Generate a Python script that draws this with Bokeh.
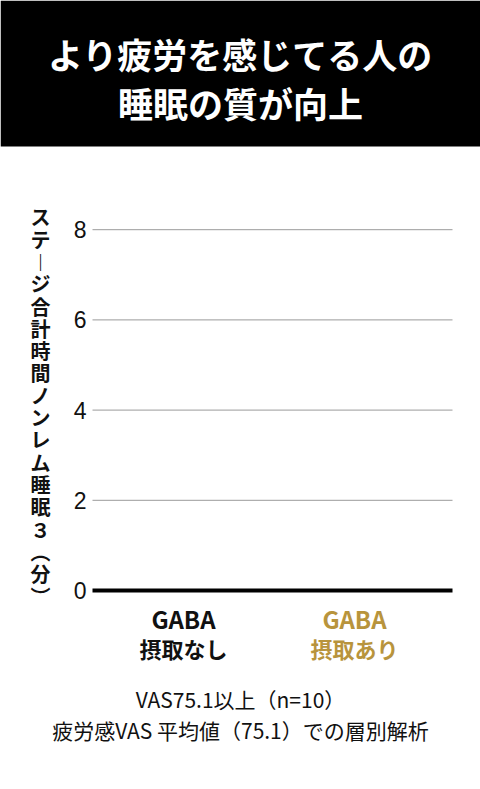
from bokeh.plotting import figure
from bokeh.models import Range1d
from bokeh.core.properties import value
from bokeh.embed import file_html
from bokeh.resources import INLINE

# ---- data ----
title_lines = ["より疲労を感じてる人の", "睡眠の質が向上"]
cat_line1 = ["GABA", "GABA"]
cat_line2 = ["摂取なし", "摂取あり"]
cat_colors = ["#111111", "#B8943C"]
values = [0, 0]
y_ticks = [0, 2, 4, 6, 8]
y_label = "ステージ合計時間ノンレム睡眠３（分）"
footnotes = ["VAS75.1以上（n=10）", "疲労感VAS 平均値（75.1）での層別解析"]

FONT = value("Noto Sans CJK JP")
W, H = 480, 789
OFF = 0

# layout: page pixel -> data coordinates
Y0_PX, PX_PER_UNIT = 590.0, 45.1      # value 0 line and scale
X0_PX, PX_PER_CAT = 183.0, 171.0      # first category centre and spacing


def px_y(py):
    return (Y0_PX - py) / PX_PER_UNIT


def px_x(px):
    return (px - X0_PX) / PX_PER_CAT


p = figure(width=W, height=H,
           x_range=Range1d(px_x(OFF), px_x(OFF + W)),
           y_range=Range1d(px_y(OFF + H), px_y(OFF)),
           output_backend="svg", toolbar_location=None,
           min_border=0, min_border_left=0, min_border_right=0,
           min_border_top=0, min_border_bottom=0)
p.axis.visible = False
p.grid.visible = False
p.outline_line_color = None
p.background_fill_color = "white"
p.border_fill_color = "white"

# header band
p.quad(left=[px_x(OFF)], right=[px_x(OFF + W)], top=[px_y(OFF)], bottom=[px_y(146)],
       fill_color="black", line_color=None)
p.text(x=[px_x(240)] * 2, y=[px_y(53), px_y(102)], text=title_lines,
       text_align="center", text_baseline="middle", text_color="white",
       text_font=FONT, text_font_style="bold", text_font_size="35px")

# grid lines and tick labels
grid_vals = [t for t in y_ticks if t != 0]
p.segment(x0=[px_x(92)] * len(grid_vals), x1=[px_x(452)] * len(grid_vals),
          y0=grid_vals, y1=grid_vals, line_color="#9a9a9a", line_width=1)
p.text(x=[px_x(86)] * len(y_ticks), y=y_ticks, text=[str(t) for t in y_ticks],
       text_align="right", text_baseline="middle", text_color="#111111",
       text_font=value("Liberation Sans"), text_font_size="23px")

# bars (zero height in this frame)
cats_x = list(range(len(values)))
p.vbar(x=cats_x, top=values, bottom=0, width=0.5, color=cat_colors)

# baseline
p.segment(x0=[px_x(92)], x1=[px_x(452)], y0=[0], y1=[0], line_color="black", line_width=4)

# vertical (upright) y-axis label
vmap = {"ー": "︱", "（": "︵", "）": "︶"}
vertical_text = "\n".join(vmap.get(c, c) for c in y_label)
p.text(x=[px_x(40)], y=[px_y(406)], text=[vertical_text],
       text_align="center", text_baseline="middle", text_color="#111111",
       text_font=FONT, text_font_size="20px", text_font_style="bold",
       text_line_height=0.77)

# category labels
p.text(x=cats_x, y=[px_y(618)] * len(cats_x), text=cat_line1, text_color=cat_colors,
       text_align="center", text_baseline="middle",
       text_font=FONT, text_font_size="24px", text_font_style="bold")
p.text(x=cats_x, y=[px_y(647)] * len(cats_x), text=cat_line2, text_color=cat_colors,
       text_align="center", text_baseline="middle",
       text_font=FONT, text_font_size="22px", text_font_style="bold")

# footnotes
p.text(x=[px_x(240)] * 2, y=[px_y(698), px_y(729)], text=footnotes,
       text_align="center", text_baseline="middle", text_color="#111111",
       text_font=FONT, text_font_size="21px")

open("out.html", "w").write(file_html(p, INLINE))
